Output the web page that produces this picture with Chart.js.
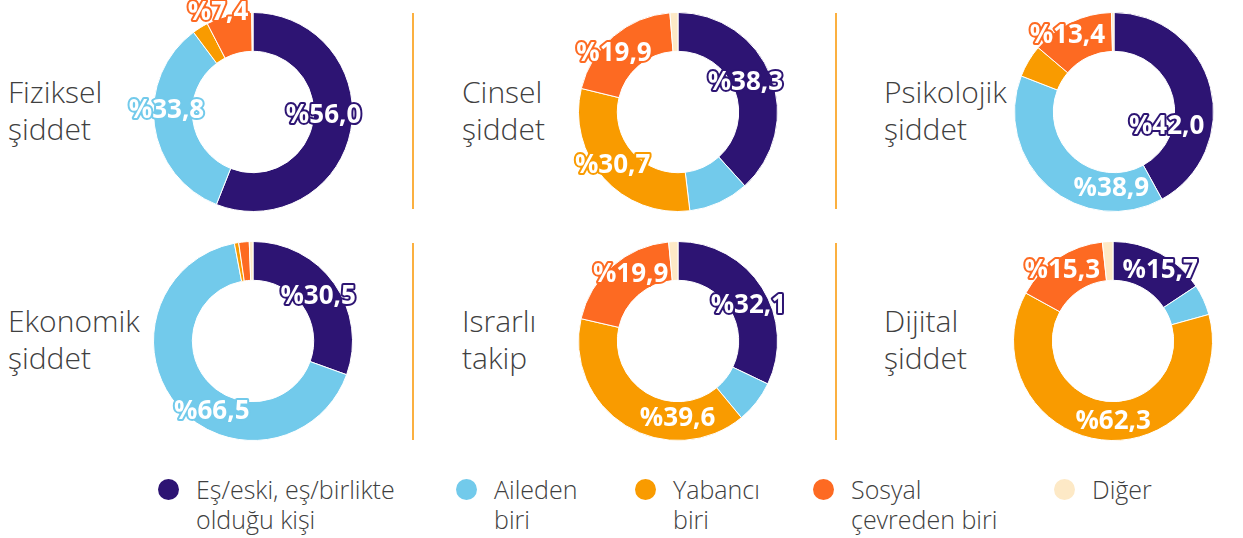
<!DOCTYPE html>
<html lang="tr">
<head>
<meta charset="utf-8">
<script src="https://cdn.jsdelivr.net/npm/chart.js@4.4.0/dist/chart.umd.min.js"></script>
<style>
  body{margin:0;width:1243px;height:538px;overflow:hidden;background:#fff;position:relative;
       font-family:"Open Sans",sans-serif;color:#404040}
  canvas.pie{position:absolute}
  .title{position:absolute;font-size:30px;line-height:37px;font-weight:300;white-space:nowrap}
  .divider{position:absolute;width:2px;background:#fbb040}
  .legend-item{position:absolute;top:474px;font-size:25px;line-height:30px;font-weight:300;white-space:nowrap}
  .legend-item i{position:absolute;left:-38px;top:5px;width:21px;height:21px;border-radius:50%}
</style>
</head>
<body>
<script>
// perpetrator categories (legend order = slice order)
var categories = [["Eş/eski, eş/birlikte","olduğu kişi"],["Aileden","biri"],["Yabancı","biri"],["Sosyal","çevreden biri"],["Diğer"]];
var colors = ["#2d1473","#72caeb","#f99b00","#fd6a22","#fde9c6"];

// share of each category, per violence type (%)
var fiziksel   = [56.0, 33.8, 2.6, 7.4, 0.2];
var cinsel     = [38.3, 9.8, 30.7, 19.9, 1.3];
var psikolojik = [42.0, 38.9, 5.3, 13.4, 0.4];
var ekonomik   = [30.5, 66.5, 0.7, 1.7, 0.6];
var israrli    = [32.1, 6.9, 39.6, 19.9, 1.5];
var dijital    = [15.7, 5.0, 62.3, 15.3, 1.7];

// where the percentage labels sit: index -> [fraction along slice, radius factor]
var panels = [
  {title:["Fiziksel","şiddet"],    data:fiziksel,   cx:253,  cy:112, tx:8,   spots:{0:[0.46,0.71],1:[0.57,0.87],3:[0.30,1.06]}},
  {title:["Cinsel","şiddet"],      data:cinsel,     cx:678,  cy:112, tx:462, spots:{0:[0.48,0.74],2:[0.52,0.85],3:[0.40,0.87]}},
  {title:["Psikolojik","şiddet"],  data:psikolojik, cx:1114, cy:112, tx:884, spots:{0:[0.70,0.55],1:[0.22,0.77],3:[0.38,0.90]}},
  {title:["Ekonomik","şiddet"],    data:ekonomik,   cx:253,  cy:341, tx:8,   spots:{0:[0.51,0.79],1:[0.42,0.82]}},
  {title:["Israrlı","takip"],      data:israrli,    cx:678,  cy:341, tx:462, spots:{0:[0.55,0.79],2:[0.28,0.78],3:[0.58,0.82]}},
  {title:["Dijital","şiddet"],     data:dijital,    cx:1113, cy:341, tx:884, spots:{0:[0.60,0.85],2:[0.47,0.81],3:[0.46,0.87]}}
];

// outlined white percentage text on top of the arcs
var ringLabels = {
  id:"ringLabels",
  afterDatasetsDraw:function(chart, args, opts){
    var ctx = chart.ctx;
    var ds = chart.data.datasets[0];
    chart.getDatasetMeta(0).data.forEach(function(arc, i){
      var spot = opts.spots[i];
      if(!spot) return;
      var p = arc.getProps(["x","y","startAngle","endAngle","outerRadius"], true);
      var a = p.startAngle + (p.endAngle - p.startAngle) * spot[0];
      var r = p.outerRadius * spot[1];
      var x = p.x + Math.cos(a) * r, y = p.y + Math.sin(a) * r;
      var txt = "%" + ds.data[i].toFixed(1).replace(".", ",");
      ctx.save();
      ctx.font = 'bold 26px "Open Sans"';
      ctx.textAlign = "center";
      ctx.textBaseline = "middle";
      ctx.lineJoin = "round";
      ctx.lineWidth = 4;
      ctx.strokeStyle = ds.backgroundColor[i];
      ctx.strokeText(txt, x, y);
      ctx.fillStyle = "#fff";
      ctx.fillText(txt, x, y);
      ctx.restore();
    });
  }
};

panels.forEach(function(p){
  var t = document.createElement("div");
  t.className = "title";
  t.style.left = p.tx + "px";
  t.style.top = (p.cy - 39) + "px";
  t.innerHTML = p.title.join("<br>");
  document.body.appendChild(t);

  var c = document.createElement("canvas");
  c.className = "pie";
  c.width = 300; c.height = 240;
  c.style.left = (p.cx - 150) + "px";
  c.style.top = (p.cy - 120) + "px";
  document.body.appendChild(c);

  new Chart(c, {
    type:"doughnut",
    data:{
      labels:categories.map(function(l){ return l.join(" "); }),
      datasets:[{data:p.data, backgroundColor:colors, borderColor:"#fff", borderWidth:1}]
    },
    options:{
      responsive:false,
      animation:false,
      cutout:"61%",
      layout:{padding:20},
      plugins:{legend:{display:false}, tooltip:{enabled:false}, ringLabels:{spots:p.spots}}
    },
    plugins:[ringLabels]
  });
});

// orange separators between the columns
[412, 835].forEach(function(x){
  [[13,209],[243,440]].forEach(function(s){
    var d = document.createElement("div");
    d.className = "divider";
    d.style.left = x + "px";
    d.style.top = s[0] + "px";
    d.style.height = (s[1] - s[0]) + "px";
    document.body.appendChild(d);
  });
});

// legend
var legendX = [196, 494, 673, 851, 1092];
categories.forEach(function(lines, i){
  var d = document.createElement("div");
  d.className = "legend-item";
  d.style.left = legendX[i] + "px";
  d.innerHTML = '<i style="background:' + colors[i] + '"></i>' + lines.join("<br>");
  document.body.appendChild(d);
});
</script>
</body>
</html>
